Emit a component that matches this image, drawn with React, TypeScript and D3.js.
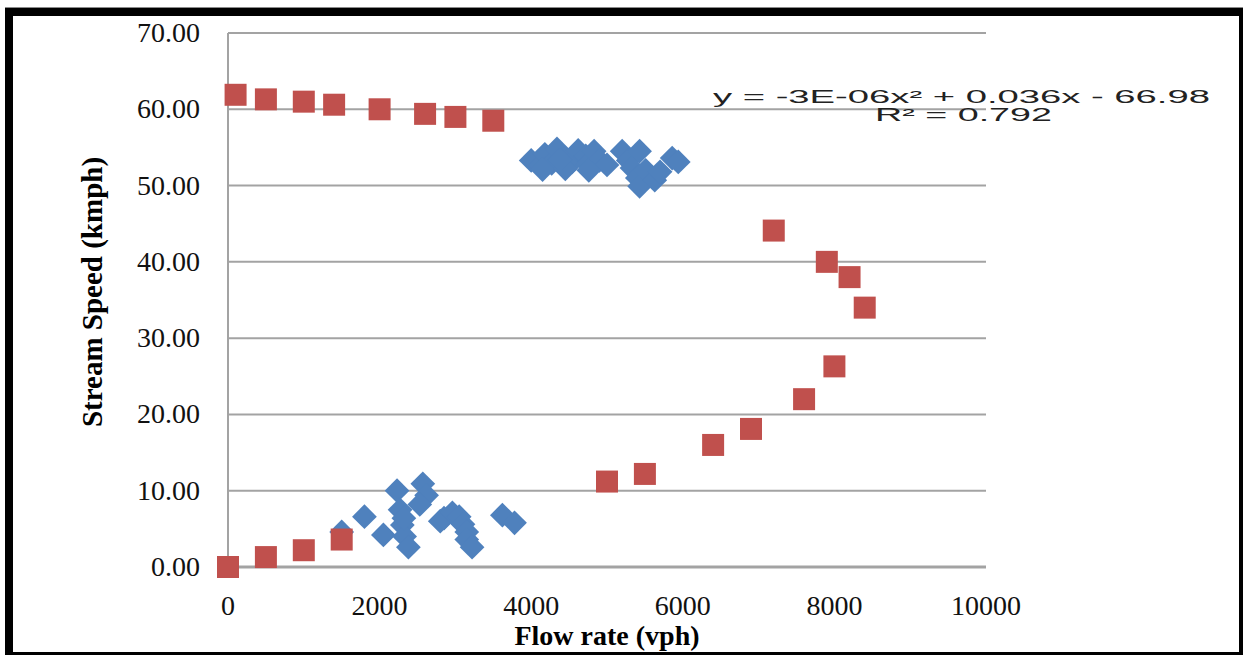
import React from 'react';
import * as d3 from 'd3';

// red series (squares)
const redFlow = [100, 500, 1000, 1400, 2000, 2600, 3000, 3500, 7200, 7900, 8200, 8400, 8000, 7600, 6900, 6400, 5500, 5000, 1500, 1000, 500, 0];
const redSpeed = [61.9, 61.3, 61.0, 60.6, 60.0, 59.4, 59.0, 58.5, 44.1, 40.0, 38.0, 34.0, 26.3, 22.0, 18.1, 16.0, 12.2, 11.2, 3.6, 2.2, 1.3, 0.0];

// blue series (diamonds)
const blueFlow = [
  4000, 4120, 4180, 4270, 4340, 4450, 4540, 4620, 4720, 4750, 4830, 4900, 5000,
  4150, 4450, 4760, 4380,
  5200, 5280, 5330, 5430, 5400, 5430, 5510, 5630, 5700, 5860, 5940,
  1500, 1800, 2050, 2230, 2270, 2300, 2330, 2380, 2320, 2570, 2620, 2530,
  2800, 2850, 2960, 3050, 3100, 3150, 3150, 3220, 3620, 3780,
];
const blueSpeed = [
  53.3, 52.6, 54.1, 52.9, 54.8, 53.6, 53.1, 54.6, 53.9, 52.8, 54.5, 53.3, 52.7,
  52.1, 52.2, 52.0, 53.4,
  54.5, 53.3, 52.3, 54.5, 51.0, 49.9, 52.0, 50.7, 51.8, 53.6, 53.1,
  4.6, 6.6, 4.2, 10.0, 7.5, 5.5, 4.0, 2.6, 6.4, 10.9, 9.4, 8.2,
  6.0, 6.4, 7.1, 6.6, 5.6, 4.6, 3.6, 2.6, 6.8, 5.8,
];

const yTicks = [0, 10, 20, 30, 40, 50, 60, 70];
const xTicks = [0, 2000, 4000, 6000, 8000, 10000];

const equation = 'y = -3E-06x\u00B2 + 0.036x - 66.98';
const rSquared = 'R\u00B2 = 0.792';

const W = 1244;
const H = 655;

export default function App() {
  const x = d3.scaleLinear().domain([0, 10000]).range([228, 986]);
  const y = d3.scaleLinear().domain([0, 70]).range([567, 33]);

  const square = d3.symbol(d3.symbolSquare, 22 * 22)()!;
  const diamond = d3.symbol(d3.symbolSquare, 17.5 * 17.5)()!;

  const serif = '"Liberation Serif", "Times New Roman", serif';
  const sans = '"Liberation Sans", Arial, sans-serif';

  return (
    <svg width={W} height={H} style={{ position: 'absolute', left: 0, top: 0, background: '#fff' }}>
      {/* frame */}
      <rect x={5} y={7} width={1238} height={1} fill="#8a8a8a" />
      <rect x={5} y={8} width={1238} height={8} fill="#000" />
      <rect x={5} y={8} width={8} height={647} fill="#000" />
      <rect x={1239} y={8} width={4} height={647} fill="#000" />
      <rect x={5} y={652} width={1238} height={3} fill="#000" />

      {/* gridlines */}
      {yTicks.map(t => (
        <line key={t} x1={x(0)} x2={x(10000)} y1={y(t)} y2={y(t)} stroke="#a3a3a3" strokeWidth={t === 0 ? 3 : 2} />
      ))}
      <line x1={x(0)} x2={x(0)} y1={y(70)} y2={y(0)} stroke="#a3a3a3" strokeWidth={2} />

      {/* y tick labels */}
      {yTicks.map(t => (
        <text key={t} x={200} y={y(t) + 9} textAnchor="end" fontFamily={serif} fontSize={28} fill="#111">
          {t.toFixed(2)}
        </text>
      ))}

      {/* x tick labels */}
      {xTicks.map(t => (
        <text key={t} x={x(t)} y={615} textAnchor="middle" fontFamily={serif} fontSize={28} fill="#111">
          {t}
        </text>
      ))}

      {/* axis titles */}
      <text x={(x(0) + x(10000)) / 2} y={645} textAnchor="middle" fontFamily={serif} fontWeight="bold" fontSize={28} fill="#000">
        Flow rate (vph)
      </text>
      <text
        transform={`translate(102, ${(y(0) + y(70)) / 2 - 8}) rotate(-90)`}
        textAnchor="middle"
        fontFamily={serif}
        fontWeight="bold"
        fontSize={29}
        fill="#000"
      >
        Stream Speed (kmph)
      </text>

      {/* blue diamonds */}
      {blueFlow.map((f, i) => (
        <path key={'b' + i} d={diamond} transform={`translate(${x(f)},${y(blueSpeed[i])}) rotate(45)`} fill="#4f81bd" />
      ))}

      {/* red squares */}
      {redFlow.map((f, i) => (
        <path key={'r' + i} d={square} transform={`translate(${x(f)},${y(redSpeed[i])})`} fill="#c0504d" />
      ))}

      {/* trendline label */}
      <text x={713} y={103} fontFamily={sans} fontSize={18} fill="#222" textLength={497} lengthAdjust="spacingAndGlyphs">
        {equation}
      </text>
      <text x={875} y={121} fontFamily={sans} fontSize={18} fill="#222" textLength={177} lengthAdjust="spacingAndGlyphs">
        {rSquared}
      </text>
    </svg>
  );
}
